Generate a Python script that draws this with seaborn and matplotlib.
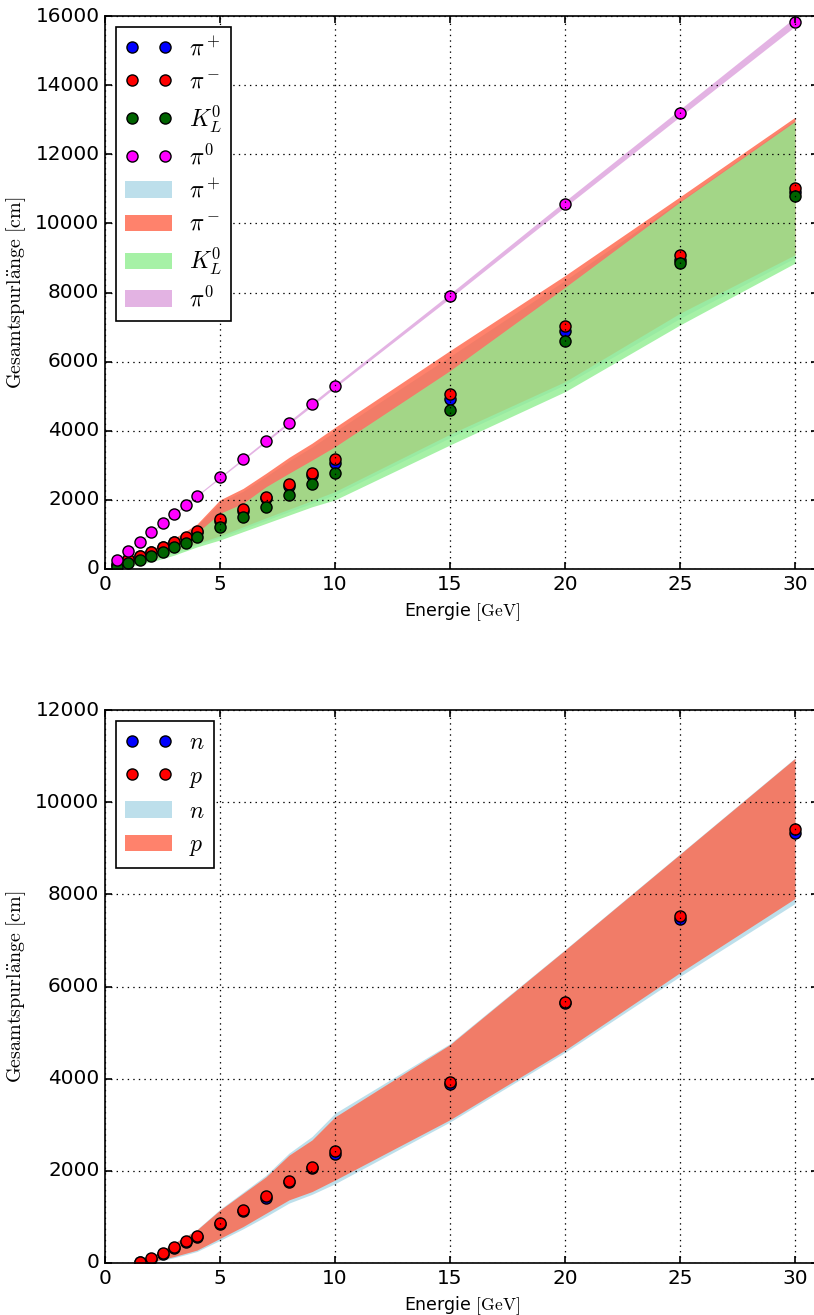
import matplotlib
matplotlib.use("Agg")
import matplotlib.pyplot as plt
import seaborn as sns

plt.style.use("classic")
plt.rcParams.update({
    "figure.facecolor": "white",
    "savefig.facecolor": "white",
    "font.size": 14.4,
    "xtick.labelsize": 14.4,
    "ytick.labelsize": 14.4,
    "axes.labelsize": 12.5,
    "legend.fontsize": 17,
    "mathtext.fontset": "cm",
    "axes.linewidth": 1.2,
    "xtick.major.size": 5,
    "ytick.major.size": 5,
    "xtick.major.width": 1.2,
    "ytick.major.width": 1.2,
    "grid.linewidth": 0.9,
})

# ---- mesons: energies [GeV] and total track length [cm] ----
energy_meson = [0.5, 1, 1.5, 2, 2.5, 3, 3.5, 4, 5, 6, 7, 8, 9, 10, 15, 20, 25, 30]

pip_mean = [120, 250, 370, 490, 625, 775, 910, 1070, 1395, 1690, 2045, 2405, 2730, 3060, 4910, 6900, 8950, 10900]
pim_mean = [135, 275, 385, 505, 645, 795, 935, 1105, 1440, 1735, 2090, 2450, 2780, 3175, 5055, 7040, 9075, 11010]
kl_mean = [65, 165, 260, 375, 500, 630, 765, 935, 1206, 1514, 1805, 2141, 2470, 2790, 4595, 6600, 8850, 10800]
pi0_mean = [265, 530, 795, 1060, 1325, 1590, 1855, 2120, 2650, 3175, 3705, 4235, 4760, 5295, 7900, 10560, 13195, 15830]

pip_lo = [30, 80, 160, 250, 350, 460, 580, 710, 910, 1160, 1410, 1660, 1900, 2150, 3800, 5330, 7250, 9000]
pip_hi = [140, 250, 385, 540, 695, 860, 1050, 1250, 1930, 2250, 2680, 3130, 3530, 3980, 6150, 8350, 10650, 12990]
pim_lo = [35, 90, 175, 270, 375, 490, 610, 740, 960, 1220, 1480, 1730, 1980, 2240, 3900, 5420, 7400, 9090]
pim_hi = [150, 260, 400, 560, 720, 890, 1090, 1300, 2000, 2330, 2770, 3230, 3640, 4100, 6320, 8490, 10770, 13070]
kl_lo = [20, 60, 130, 210, 300, 400, 520, 640, 840, 1080, 1320, 1560, 1800, 2000, 3590, 5130, 7060, 8850]
kl_hi = [100, 190, 300, 430, 570, 720, 880, 1050, 1610, 1900, 2380, 2770, 3150, 3540, 5740, 8150, 10620, 12950]
pi0_lo = [257, 520, 783, 1040, 1307, 1570, 1832, 2100, 2625, 3145, 3670, 4195, 4712, 5250, 7835, 10475, 13090, 15700]
pi0_hi = [273, 540, 807, 1080, 1343, 1610, 1878, 2140, 2675, 3205, 3740, 4275, 4808, 5340, 7965, 10645, 13300, 15960]

# ---- nucleons ----
energy_nucleon = [1.5, 2, 2.5, 3, 3.5, 4, 5, 6, 7, 8, 9, 10, 15, 20, 25, 30]

n_mean = [20, 95, 205, 315, 450, 565, 850, 1120, 1420, 1750, 2060, 2370, 3890, 5640, 7460, 9325]
p_mean = [28, 108, 224, 340, 477, 593, 875, 1150, 1447, 1779, 2083, 2431, 3925, 5660, 7540, 9420]
n_lo = [10, 20, 60, 115, 180, 250, 490, 740, 1010, 1300, 1490, 1720, 3060, 4570, 6220, 7800]
n_hi = [30, 140, 285, 435, 580, 730, 1165, 1535, 1905, 2385, 2745, 3250, 4760, 6800, 8880, 10960]
p_lo = [20, 30, 80, 140, 210, 280, 535, 790, 1080, 1370, 1550, 1800, 3110, 4620, 6300, 7910]
p_hi = [30, 140, 280, 430, 570, 720, 1150, 1510, 1870, 2340, 2670, 3170, 4740, 6790, 8870, 10950]

x_ticks = [0, 5, 10, 15, 20, 25, 30]

fig = plt.figure(figsize=(8.14, 13.15), dpi=100)
ax_top = fig.add_axes([105 / 814, 746 / 1315, 713 / 814, 553 / 1315])
ax_bot = fig.add_axes([105 / 814, 52 / 1315, 713 / 814, 553 / 1315])

marker_kw = dict(marker="o", linestyle="", markersize=8, markeredgecolor="black",
                 markeredgewidth=1.0, errorbar=None, legend=False)


def draw_panel(ax, energy, means, bands, colors, band_colors, labels, ymax):
    band_handles = []
    for (lo, hi), bc, lab in zip(bands, band_colors, labels):
        h = ax.fill_between(energy, lo, hi, color=bc, alpha=0.8, linewidth=0, label=lab)
        band_handles.append(h)
    point_handles = []
    for m, c, lab in zip(means, colors, labels):
        sns.lineplot(x=energy, y=m, ax=ax, color=c, **marker_kw)
        point_handles.append(ax.lines[-1])
        ax.lines[-1].set_label(lab)
    ax.set_xlim(0, 31)
    ax.set_ylim(0, ymax)
    ax.set_xticks(x_ticks)
    ax.set_yticks(range(0, ymax + 1, 2000))
    ax.set_axisbelow(False)
    ax.grid(True, color="black", linestyle=":")
    ax.set_xlabel(r"Energie $\mathrm{[GeV]}$")
    ax.set_ylabel(r"$\mathrm{Gesamtspurl\ddot{a}nge}\ \mathrm{[cm]}$", fontsize=14.4)
    leg = ax.legend(point_handles + band_handles, labels + labels, loc="upper left",
                    numpoints=2, frameon=True, fancybox=False, borderaxespad=0.45,
                    handletextpad=0.7, labelspacing=0.4)
    leg.get_frame().set_edgecolor("black")
    leg.get_frame().set_linewidth(1.2)


meson_labels = [r"$\pi^+$", r"$\pi^-$", r"$K_L^0$", r"$\pi^0$"]
draw_panel(
    ax_top, energy_meson,
    [pip_mean, pim_mean, kl_mean, pi0_mean],
    [(pip_lo, pip_hi), (pim_lo, pim_hi), (kl_lo, kl_hi), (pi0_lo, pi0_hi)],
    ["#0000ff", "#ff0000", "#006400", "#ff00ff"],
    ["lightblue", "tomato", "lightgreen", "plum"],
    meson_labels, 16000,
)

nucleon_labels = [r"$n$", r"$p$"]
draw_panel(
    ax_bot, energy_nucleon,
    [n_mean, p_mean],
    [(n_lo, n_hi), (p_lo, p_hi)],
    ["#0000ff", "#ff0000"],
    ["lightblue", "tomato"],
    nucleon_labels, 12000,
)

fig.savefig("out.png", dpi=100)
